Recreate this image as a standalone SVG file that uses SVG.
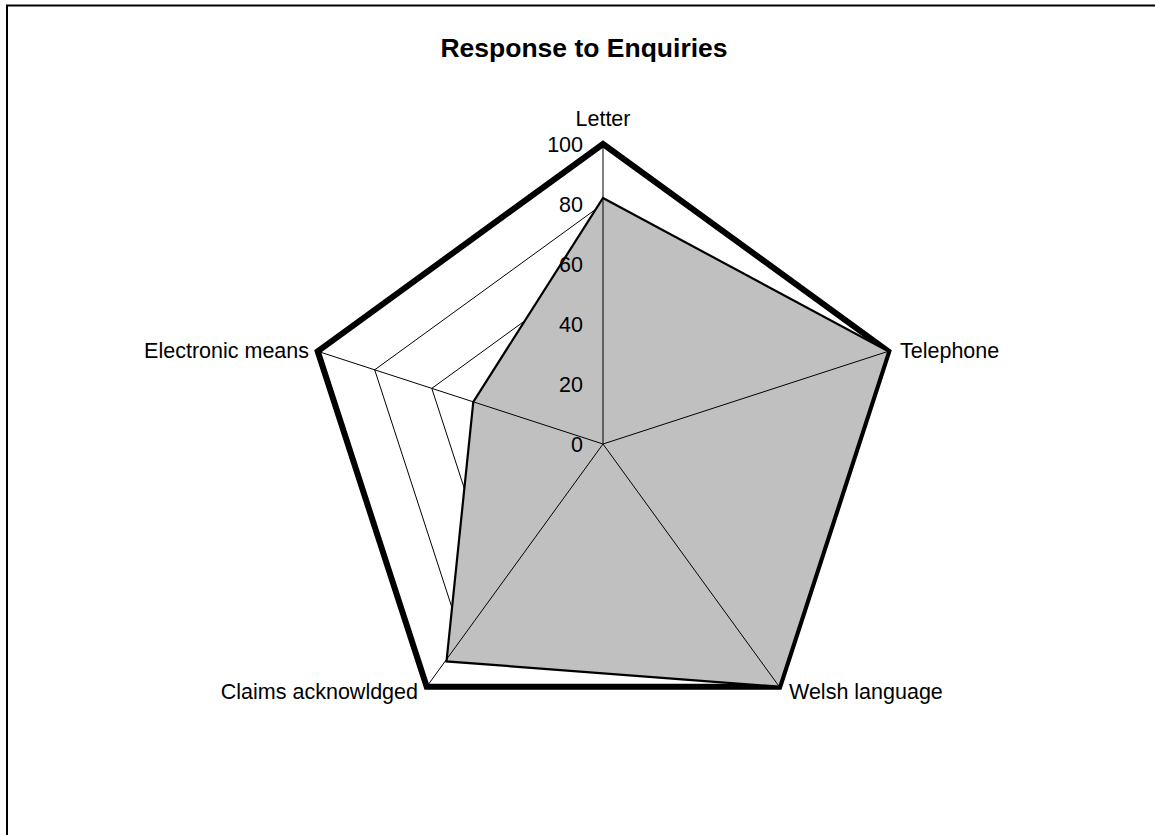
<svg xmlns="http://www.w3.org/2000/svg" width="1155" height="835" viewBox="0 0 1155 835">
  <style>
    .lbl { font-family: "Liberation Sans", Arial, sans-serif; font-size: 21.5px; fill: #000; }
    .title { font-family: "Liberation Sans", Arial, sans-serif; font-size: 26.5px; font-weight: bold; fill: #000; }
    .ring { fill: none; stroke: #000; stroke-width: 1; }
    .spoke { stroke: #000; stroke-width: 1; }
  </style>
  <rect x="0" y="0" width="1155" height="835" fill="#fff"/>
  <!-- chart area border -->
  <path d="M7,835 V5.5 H1155" fill="none" stroke="#000" stroke-width="2"/>

  <text class="title" x="584" y="57" text-anchor="middle">Response to Enquiries</text>

  <!-- grid rings (20..80) -->
  <g id="grid">
    <polygon class="ring" points="603,384 660.1,425.5 638.3,492.5 567.7,492.5 545.9,425.5"/>
    <polygon class="ring" points="603,324 717.1,406.9 673.5,541.1 532.5,541.1 488.9,406.9"/>
    <polygon class="ring" points="603,264 774.2,388.4 708.8,589.6 497.2,589.6 431.8,388.4"/>
    <polygon class="ring" points="603,204 831.3,369.8 744.1,638.2 461.9,638.2 374.7,369.8"/>
  </g>

  <!-- outer 100 ring -->
  <g id="outer-ring">
    <polygon points="603,144 888.3,351.3 779.3,686.7 426.7,686.7 317.7,351.3" fill="none" stroke="#000" stroke-width="6" stroke-linejoin="miter"/>
  </g>

  <!-- data series -->
  <g id="series">
    <polygon points="603,198 888.3,351.3 779.3,686.7 446.5,661.4 473.3,401.8" fill="#C0C0C0" stroke="#000" stroke-width="2.2" stroke-linejoin="miter"/>
  </g>

  <!-- axis spokes -->
  <g id="connectors">
    <line class="spoke" x1="603" y1="444" x2="603" y2="144"/>
    <line class="spoke" x1="603" y1="444" x2="888.3" y2="351.3"/>
    <line class="spoke" x1="603" y1="444" x2="779.3" y2="686.7"/>
    <line class="spoke" x1="603" y1="444" x2="426.7" y2="686.7"/>
    <line class="spoke" x1="603" y1="444" x2="317.7" y2="351.3"/>
  </g>

  <!-- value axis labels -->
  <g id="axis-labels">
    <text class="lbl" x="583" y="452" text-anchor="end">0</text>
    <text class="lbl" x="583" y="392" text-anchor="end">20</text>
    <text class="lbl" x="583" y="332" text-anchor="end">40</text>
    <text class="lbl" x="583" y="272" text-anchor="end">60</text>
    <text class="lbl" x="583" y="212" text-anchor="end">80</text>
    <text class="lbl" x="583" y="152" text-anchor="end">100</text>
  </g>

  <!-- category labels -->
  <g id="node-letter"><text class="lbl" x="603" y="126" text-anchor="middle">Letter</text></g>
  <g id="node-telephone"><text class="lbl" x="900" y="358">Telephone</text></g>
  <g id="node-welsh"><text class="lbl" x="789" y="699">Welsh language</text></g>
  <g id="node-claims"><text class="lbl" x="418" y="699" text-anchor="end">Claims acknowldged</text></g>
  <g id="node-electronic"><text class="lbl" x="309" y="358" text-anchor="end">Electronic means</text></g>
</svg>
